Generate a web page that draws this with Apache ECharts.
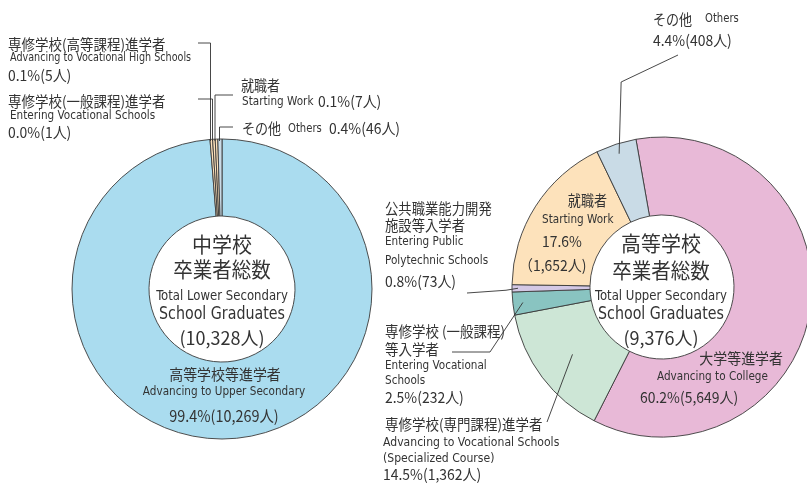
<!DOCTYPE html>
<html>
<head>
<meta charset="utf-8">
<script src="https://cdn.jsdelivr.net/npm/echarts@6/dist/echarts.min.js"></script>
<style>
  html, body { margin: 0; padding: 0; background: #fff; }
  #chart { width: 807px; height: 485px; }
</style>
</head>
<body>
<div id="chart"></div>
<script>
// 中学校卒業者
var lowerNames = ['高等学校等進学者', '専修学校(高等課程)進学者', '専修学校(一般課程)進学者', '就職者', 'その他'];
var lowerNamesEn = ['Advancing to Upper Secondary', 'Advancing to Vocational High Schools', 'Entering Vocational Schools', 'Starting Work', 'Others'];
var lowerCounts = [10269, 5, 1, 7, 46];
var lowerPct = [99.4, 0.1, 0.0, 0.1, 0.4];

// 高等学校卒業者
var upperNames = ['大学等進学者', '専修学校(専門課程)進学者', '専修学校 (一般課程)\n等入学者', '公共職業能力開発\n施設等入学者', '就職者', 'その他'];
var upperNamesEn = ['Advancing to College', 'Advancing to Vocational Schools\n(Specialized Course)', 'Entering Vocational\nSchools', 'Entering Public\nPolytechnic Schools', 'Starting Work', 'Others'];
var upperCounts = [5649, 1362, 232, 73, 1652, 408];
var upperPct = [60.2, 14.5, 2.5, 0.8, 17.6, 4.4];

var lowerColors = ['#aadcef', '#fde2bb', '#fde2bb', '#fde2bb', '#c9dbe6'];
var upperColors = ['#e8b9d7', '#cde6d6', '#89c4c1', '#d4c8e5', '#fde2bb', '#c9dbe6'];

var JP = '"Noto Sans CJK JP", sans-serif';
var EN = '"Liberation Sans Narrow", "DejaVu Sans Condensed", "Noto Sans", sans-serif';
var INK = '#333';

var upperCenter = [662, 287];
var upperStart = 100;

function sum(a) { return a.reduce(function (s, v) { return s + v; }, 0); }
function fmt(n) { return n.toLocaleString('en-US'); }
function pctText(p, c) { return p.toFixed(1) + '%(' + fmt(c) + '人)'; }

// point in the middle of slice i of the upper pie, at radius r
function upperMid(i, r) {
  var total = sum(upperCounts);
  var before = sum(upperCounts.slice(0, i));
  var f = (before + upperCounts[i] / 2) / total;
  var a = (upperStart - 360 * f) * Math.PI / 180;
  return [upperCenter[0] + r * Math.cos(a), upperCenter[1] - r * Math.sin(a)];
}

var graphics = [];
function txt(str, x, y, font, size, align, lh, sx) {
  lh = lh || Math.round(size * 1.2);
  if (sx == null) sx = font === EN ? 0.93 : (font === JP && size < 16 ? 0.93 : 1);
  graphics.push({
    type: 'text', x: x, y: y - lh / 2, z: 100, silent: true, scaleX: sx,
    style: {
      text: str, fill: INK, font: size + 'px ' + font,
      textAlign: align || 'left', textVerticalAlign: 'top', lineHeight: lh
    }
  });
}
function line(pts) {
  graphics.push({
    type: 'polyline', z: 100, silent: true,
    shape: { points: pts },
    style: { stroke: INK, lineWidth: 0.9, fill: null }
  });
}

// ---- 中学校 labels
txt('中学校', 222, 244, JP, 21, 'center', null, 0.95);
txt('卒業者総数', 222, 269, JP, 21, 'center', null, 0.93);
txt('Total Lower Secondary', 222, 296, EN, 14, 'center');
txt('School Graduates', 222, 315, EN, 17, 'center');
txt('(' + fmt(sum(lowerCounts)) + '人)', 222, 338, JP, 18, 'center');

txt(lowerNames[0], 225, 374, JP, 15, 'center');
txt(lowerNamesEn[0], 224, 392, EN, 12.5, 'center');
txt(pctText(lowerPct[0], lowerCounts[0]), 224, 416, JP, 15.5, 'center');

txt(lowerNames[1], 8, 44, JP, 14.5);
txt(lowerNamesEn[1], 10, 58, EN, 11.5);
txt(pctText(lowerPct[1], lowerCounts[1]), 8, 75, JP, 15);
txt(lowerNames[2], 8, 101, JP, 14.5);
txt(lowerNamesEn[2], 10, 116, EN, 12.5);
txt(pctText(lowerPct[2], lowerCounts[2]), 8, 132, JP, 15);
txt(lowerNames[3], 241, 85, JP, 14.5, 'left', null, 0.9);
txt(lowerNamesEn[3], 242, 102, EN, 12.5);
txt(pctText(lowerPct[3], lowerCounts[3]), 318, 101, JP, 15);
txt(lowerNames[4], 242, 128, JP, 14.5, 'left', null, 0.9);
txt(lowerNamesEn[4], 288, 129, EN, 12);
txt(pctText(lowerPct[4], lowerCounts[4]), 329, 128, JP, 15);

line([[198, 43], [210.5, 43], [210.5, 141]]);
line([[198, 99], [212.5, 99], [212.5, 141]]);
line([[233, 95], [215, 95], [215, 141]]);
line([[233, 127], [219.5, 127], [219.5, 141]]);

// ---- 高等学校 labels
txt('高等学校', 661, 243, JP, 21, 'center', null, 0.95);
txt('卒業者総数', 661, 270, JP, 21, 'center', null, 0.93);
txt('Total Upper Secondary', 661, 296, EN, 14, 'center');
txt('School Graduates', 661, 315, EN, 17, 'center');
txt('(' + fmt(sum(upperCounts)) + '人)', 661, 338, JP, 18, 'center');

txt(upperNames[0], 783, 358, JP, 15, 'right');
txt(upperNamesEn[0], 657, 377, EN, 12.5);
txt(pctText(upperPct[0], upperCounts[0]), 640, 397, JP, 15);

txt(upperNames[1], 385, 424, JP, 14.5);
txt(upperNamesEn[1], 383, 443, EN, 13, 'left', 16);
txt(pctText(upperPct[1], upperCounts[1]), 383, 474, JP, 15);

txt(upperNames[2], 385, 331, JP, 14.5, 'left', 18);
txt(upperNamesEn[2], 385, 366, EN, 12.5, 'left', 15);
txt(pctText(upperPct[2], upperCounts[2]), 385, 397, JP, 15);

txt(upperNames[3], 385, 208, JP, 14.5, 'left', 17, 0.92);
txt(upperNamesEn[3], 385, 242, EN, 12.5, 'left', 19);
txt(pctText(upperPct[3], upperCounts[3]), 385, 281, JP, 15);

txt(upperNames[4], 607, 200, JP, 14.5, 'right', null, 0.9);
txt(upperNamesEn[4], 542, 220, EN, 12.5);
txt(upperPct[4].toFixed(1) + '%', 542, 241, JP, 15);
txt('（' + fmt(upperCounts[4]) + '人)', 519, 265, JP, 15);

txt(upperNames[5], 653, 19, JP, 14.5, 'left', null, 0.9);
txt(upperNamesEn[5], 705, 19, EN, 12);
txt(pctText(upperPct[5], upperCounts[5]), 653, 40, JP, 15);

// leader lines to the upper pie slices
var pGray = upperMid(5, 140);
line([[678, 55], [pGray[0] + 2, 82], pGray]);
var pLav = upperMid(3, 144);
line([[467, 293], [pLav[0] - 12, pLav[1] + 2], pLav]);
var pTeal = upperMid(2, 140);
line([[452, 352], [490, 352], pTeal]);
var pGreen = upperMid(1, 112);
line([[547, 422], pGreen]);

function pieData(names, counts, colors) {
  return counts.map(function (v, i) {
    return { name: names[i], value: v, itemStyle: { color: colors[i] } };
  });
}

var chart = echarts.init(document.getElementById('chart'), null, { renderer: 'canvas' });
chart.setOption({
  animation: false,
  graphic: graphics,
  series: [
    {
      type: 'pie',
      center: [222, 289],
      radius: [73, 150],
      startAngle: 90,
      clockwise: true,
      minAngle: 1,
      silent: true,
      label: { show: false },
      labelLine: { show: false },
      itemStyle: { borderColor: '#3a3a3a', borderWidth: 0.9 },
      data: pieData(lowerNames, lowerCounts, lowerColors)
    },
    {
      type: 'pie',
      center: upperCenter,
      radius: [72, 150],
      startAngle: upperStart,
      clockwise: true,
      silent: true,
      label: { show: false },
      labelLine: { show: false },
      itemStyle: { borderColor: '#3a3a3a', borderWidth: 0.9 },
      data: pieData(upperNames, upperCounts, upperColors)
    }
  ]
});
</script>
</body>
</html>
